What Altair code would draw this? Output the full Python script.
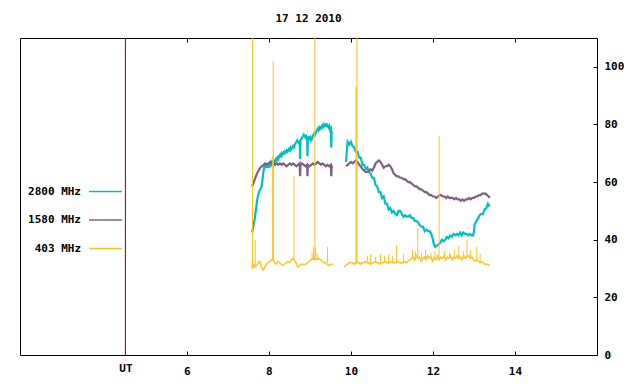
import altair as alt
import pandas as pd

FONT = "DejaVu Sans Mono"
TEAL = "#00bfbf"
PURPLE = "#7f6080"
ORANGE = "#ffc020"
UTRED = "#8b0000"
SERIES = ["2800 MHz", "1580 MHz", "403 MHz"]
TITLE = "17 12 2010"

# ---------------- data ----------------
t2800_a = [7.59, 7.61, 7.63, 7.65, 7.67, 7.69, 7.71, 7.73, 7.75, 7.77, 7.79, 7.81, 7.83, 7.85, 7.87, 7.89,
           7.91, 7.93, 7.95, 7.97, 7.99, 8.01, 8.03, 8.05, 8.07, 8.09, 8.11, 8.13, 8.15, 8.17, 8.19, 8.21,
           8.23, 8.25, 8.27, 8.29, 8.31, 8.33, 8.35, 8.37, 8.39, 8.41, 8.43, 8.45, 8.47, 8.49, 8.51, 8.53,
           8.55, 8.57, 8.59, 8.61, 8.63, 8.65, 8.67, 8.69, 8.71, 8.73, 8.75, 8.76, 8.77, 8.79, 8.81, 8.83,
           8.85, 8.87, 8.89, 8.91, 8.93, 8.94, 8.95, 8.97, 8.99, 9.01, 9.03, 9.05, 9.07, 9.09, 9.11, 9.13,
           9.15, 9.17, 9.19, 9.21, 9.23, 9.25, 9.27, 9.29, 9.31, 9.33, 9.35, 9.37, 9.39, 9.41, 9.43, 9.45,
           9.47, 9.49, 9.51, 9.52, 9.53, 9.55]
v2800_a = [42.5, 44, 45.5, 47, 49, 51, 53.5, 55, 56, 57, 57.5, 58, 59, 62, 64, 65.5, 66, 65, 66.5, 65.5,
           66, 65, 66.5, 67, 66, 66.5, 67, 66.5, 67.5, 68, 67.5, 68.5, 68, 69, 69.5, 69, 70, 69.5, 70, 70.5,
           70, 70.5, 71, 70.5, 71, 71.5, 71, 72, 71.5, 72, 72.5, 72, 73, 73.5, 74, 74.5, 74, 73.5, 74,
           68, 74.5, 75, 75.5, 76, 76.5, 76, 75.5, 76, 75.5, 69,
           75, 75.5, 75, 75.5, 74.5, 75, 76, 76.5, 77, 76.5, 77.5, 78, 78.5, 78, 79, 78.5, 79, 79.5, 79, 80,
           79.5, 80, 79.5, 80, 79.5, 79, 79.5, 78, 78.5, 72, 77.5, 77.5]

t2800_b = [9.88, 9.90, 9.92, 9.96, 10.00, 10.04, 10.08, 10.12, 10.16, 10.20, 10.24, 10.28, 10.32, 10.36,
           10.40, 10.44, 10.48, 10.52, 10.56, 10.60, 10.64, 10.68, 10.72, 10.76, 10.80, 10.84, 10.88, 10.92,
           10.96, 11.00, 11.04, 11.08, 11.12, 11.16, 11.20, 11.24, 11.28, 11.32, 11.36, 11.40, 11.44, 11.48,
           11.52, 11.56, 11.60, 11.64, 11.68, 11.72, 11.76, 11.80, 11.84, 11.88, 11.92, 11.96, 12.00, 12.02,
           12.06, 12.10, 12.14, 12.18, 12.22, 12.26, 12.30, 12.34, 12.38, 12.42, 12.46, 12.50, 12.54, 12.58,
           12.62, 12.66, 12.70, 12.74, 12.78, 12.82, 12.86, 12.90, 12.94, 12.98, 13.00, 13.02, 13.06, 13.10,
           13.14, 13.18, 13.22, 13.26, 13.30, 13.34, 13.38]
v2800_b = [67, 71, 74, 73, 74, 72.5, 72, 70.5, 70.5, 68.5, 68.5, 66, 66, 64.5, 65, 63.5, 63, 61.5, 61.5,
           59, 58.5, 56.5, 56.5, 54.5, 55, 52.5, 52.5, 50.5, 51, 49.5, 50, 49, 48.5, 50, 50, 49, 48, 48.5,
           48, 48, 48.5, 47.5, 47.5, 46.5, 46.5, 46, 45, 44.5, 44.5, 43, 43.5, 43, 43, 42, 40, 38.5, 37.5,
           38, 38.5, 39, 40, 39.5, 40, 41, 40.5, 41.5, 41, 42, 41.5, 42, 41.5, 42.5, 41.5, 42.5, 42, 42,
           41.5, 42, 41.5, 41.5, 43, 45.5, 46.5, 47.5, 48.5, 49, 49, 50.5, 51, 52.5, 51.5]

t1580_a = [7.59, 7.63, 7.67, 7.71, 7.75, 7.79, 7.83, 7.87, 7.91, 7.95, 7.99, 8.03, 8.07, 8.11, 8.15, 8.19,
           8.23, 8.27, 8.31, 8.35, 8.39, 8.43, 8.47, 8.51, 8.55, 8.59, 8.63, 8.67, 8.71, 8.75, 8.76, 8.77,
           8.81, 8.85, 8.89, 8.93, 8.94, 8.95, 8.99, 9.03, 9.07, 9.11, 9.15, 9.19, 9.23, 9.27, 9.31, 9.35,
           9.39, 9.43, 9.47, 9.51, 9.52, 9.53, 9.55]
v1580_a = [58.5, 60, 61.5, 63, 64, 65, 65.5, 66, 66.5, 66, 66.5, 67, 66.5, 67, 66, 66.5, 66, 66.5, 66,
           66.5, 66, 65.5, 66, 66.5, 66, 66.5, 66, 65.5, 66, 66.5, 62, 66, 66.5, 66, 65.5, 66, 62, 66, 65.5,
           66, 66.5, 66, 66.5, 67, 66.5, 66, 66.5, 66, 65.5, 66, 65.5, 66, 62, 65.5, 65]

t1580_b = [9.88, 9.92, 9.96, 10.00, 10.04, 10.08, 10.12, 10.16, 10.20, 10.24, 10.28, 10.32, 10.36, 10.40,
           10.44, 10.48, 10.52, 10.56, 10.60, 10.64, 10.68, 10.72, 10.76, 10.80, 10.84, 10.88, 10.92, 10.96,
           11.00, 11.04, 11.08, 11.12, 11.16, 11.20, 11.24, 11.28, 11.32, 11.36, 11.40, 11.44, 11.48, 11.52,
           11.56, 11.60, 11.64, 11.68, 11.72, 11.76, 11.80, 11.84, 11.88, 11.92, 11.96, 12.00, 12.04, 12.08,
           12.12, 12.16, 12.20, 12.24, 12.28, 12.32, 12.36, 12.40, 12.44, 12.48, 12.52, 12.56, 12.60, 12.64,
           12.68, 12.72, 12.76, 12.80, 12.84, 12.88, 12.92, 12.96, 13.00, 13.04, 13.08, 13.12, 13.16, 13.20,
           13.24, 13.28, 13.32, 13.36, 13.38]
v1580_b = [65.5, 66, 66.5, 67, 66.5, 67, 67.5, 67, 66, 65.5, 64.5, 64, 63.5, 63.5, 64, 64.5, 64, 65, 66.5,
           67, 67.5, 67, 66, 65, 65.5, 65.5, 66, 65.5, 64.5, 63, 62.5, 62, 62, 61.5, 61.5, 61, 61, 60.5, 60,
           60, 59.5, 59, 58.5, 58.5, 58, 57.5, 57.5, 57, 56.5, 56.5, 56, 55.5, 55.5, 55, 55, 54.5, 55, 55.5,
           55.5, 55, 55, 54.5, 55, 54.5, 54.5, 54.5, 54, 54.5, 54, 54, 53.5, 54, 53.5, 54, 54, 54.5, 54, 54.5,
           54.5, 55, 55, 55.5, 55.5, 56, 56, 56, 55.5, 55, 54.5]

t403_a = [7.58, 7.60, 7.62, 7.66, 7.70, 7.74, 7.78, 7.82, 7.86, 7.90, 7.94, 7.98, 8.02, 8.06, 8.10, 8.14,
          8.18, 8.22, 8.26, 8.30, 8.34, 8.38, 8.42, 8.46, 8.50, 8.54, 8.58, 8.62, 8.66, 8.70, 8.74, 8.78,
          8.82, 8.86, 8.90, 8.94, 8.98, 9.02, 9.06, 9.10, 9.14, 9.18, 9.22, 9.26, 9.30, 9.34, 9.38, 9.42,
          9.46, 9.50, 9.55]
v403_a = [31, 30, 31.5, 30.5, 31, 32, 32.5, 30.5, 29.5, 30.5, 31.5, 32, 32.5, 33, 33, 32, 31.5, 32.5, 32,
          31.5, 31, 31.5, 32, 32.5, 32, 33, 33.5, 33, 32, 30.5, 31, 31.5, 31.5, 31.5, 31.5, 32, 32.5, 33,
          33.5, 33, 33.5, 33, 33.5, 33, 32.5, 32, 32, 31.5, 31, 31.5, 31.5]

t403_b = [9.83, 9.87, 9.91, 9.95, 9.99, 10.03, 10.07, 10.11, 10.15, 10.19, 10.23, 10.27, 10.31, 10.35,
          10.39, 10.43, 10.47, 10.51, 10.55, 10.59, 10.63, 10.67, 10.71, 10.75, 10.79, 10.83, 10.87, 10.91,
          10.95, 10.99, 11.03, 11.07, 11.11, 11.15, 11.19, 11.23, 11.27, 11.31, 11.35, 11.39, 11.43, 11.47,
          11.51, 11.55, 11.59, 11.63, 11.67, 11.71, 11.75, 11.79, 11.83, 11.87, 11.91, 11.95, 11.99, 12.03,
          12.07, 12.11, 12.15, 12.19, 12.23, 12.27, 12.31, 12.35, 12.39, 12.43, 12.47, 12.51, 12.55, 12.59,
          12.63, 12.67, 12.71, 12.75, 12.79, 12.83, 12.87, 12.91, 12.95, 12.99, 13.03, 13.07, 13.11, 13.15,
          13.19, 13.23, 13.27, 13.31, 13.35, 13.38]
v403_b = [30.5, 31, 31.5, 32, 32, 32, 31.5, 32, 32, 32, 31.5, 32, 32, 32.5, 32, 32, 31.5, 32, 32, 32.5,
          32, 32, 31.5, 32, 32, 32.5, 32, 32, 32, 32.5, 32, 32, 32, 32.5, 32, 32, 32, 32.5, 32, 32.5,
          33, 33.5, 34, 33, 34.5, 33.5, 34, 32.5, 33.5, 34, 33, 34.5, 33.5, 34, 32.5, 34, 33, 34.5, 33, 34,
          33.5, 34.5, 33, 34, 33.5, 34.5, 33, 34, 33.5, 34.5, 33.5, 34, 33, 34.5, 33.5, 34, 34.5, 33.5, 34, 33,
          32.5, 33, 32.5, 32, 32.5, 32, 31.5, 31.5, 31.5, 31]

# 403 MHz bursts: time, level at foot, level at peak
spike_t = [7.60, 7.665, 8.095, 8.10, 8.105, 8.61, 9.05, 9.09, 9.12, 9.14, 9.18, 9.43, 10.125, 10.13, 10.145,
           10.40, 10.48, 10.60, 10.72, 10.82, 10.92, 11.02, 11.11, 11.28, 11.50, 11.57, 11.63, 11.72, 11.82,
           11.95, 12.05, 12.15, 12.28, 12.40, 12.52, 12.63, 12.74, 12.83, 12.92, 13.07, 13.15]
spike_base = [31, 31, 33, 33, 33, 33, 33, 33, 33, 33, 33, 32, 32, 32, 32, 32, 32, 32, 32, 32, 32, 32, 32, 32,
              34, 33, 33.5, 33, 33, 34, 34, 33, 34, 34, 34, 33.5, 34, 34, 34, 33, 32.5]
spike_top = [120, 40, 69, 69, 102, 62, 35.5, 37.5, 120, 37, 35, 37.5, 93, 93, 120, 34.5, 35, 34, 35, 34.5,
             35, 34.5, 38, 35, 36.5, 36, 44, 35.5, 36.5, 35.5, 36, 76, 36, 35.5, 36.5, 38, 36, 40, 36.5,
             37.5, 35]

ut_x = [4.5]
x_ticks = [6, 8, 10, 12, 14]
y_ticks = [0, 20, 40, 60, 80, 100]
x_domain = [1.93, 16.0]
y_domain = [0, 110]


def frame(parts, name):
    rows = []
    for seg_id, (ts, vs) in enumerate(parts):
        for t, v in zip(ts, vs):
            rows.append({"t": t, "v": v, "series": name, "seg": seg_id})
    return pd.DataFrame(rows)


d2800 = frame([(t2800_a, v2800_a), (t2800_b, v2800_b)], SERIES[0])
d1580 = frame([(t1580_a, v1580_a), (t1580_b, v1580_b)], SERIES[1])
d403 = frame([(t403_a, v403_a), (t403_b, v403_b)], SERIES[2])
dspk = pd.DataFrame([{"t": a, "base": b, "top": c, "series": SERIES[2]}
                     for a, b, c in zip(spike_t, spike_base, spike_top)])
dut = pd.DataFrame({"t": ut_x})

# ---------------- chart ----------------
W, H = 577, 317
xs = alt.Scale(domain=x_domain, nice=False, zero=False)
ys = alt.Scale(domain=y_domain, nice=False, zero=False)
cs = alt.Scale(domain=SERIES, range=[TEAL, PURPLE, ORANGE])

leg = alt.Legend(title=None, orient="none", legendX=68, legendY=136, padding=0,
                 symbolType="stroke", symbolSize=1089, symbolStrokeWidth=1.5,
                 rowPadding=alt.ExprRef(expr="5.5"), labelAlign="right",
                 labelOffset=alt.ExprRef(expr="-42"),
                 labelFont=FONT, labelFontSize=11, labelFontWeight="bold", labelColor="black")


def col():
    return alt.Color("series:N", scale=cs, legend=leg, sort=SERIES)


INWARD = alt.ExprRef(expr="-4")
common = dict(grid=False, title=None, labelFont=FONT, labelFontSize=11,
              labelFontWeight="bold", labelColor="black", tickColor="black", tickWidth=1,
              domainColor="black", domainWidth=1)
ax_x_main = alt.Axis(orient="bottom", values=x_ticks, ticks=True, tickSize=INWARD, labelPadding=14,
                     labelFlush=False, labelOverlap=False, domain=True, **common)
ax_x_top = alt.Axis(orient="top", values=x_ticks, ticks=True, tickSize=INWARD, labels=False,
                    domain=True, **common)
ax_x_ut = alt.Axis(orient="bottom", values=ut_x, labelExpr="'UT'", ticks=False, labelPadding=7,
                   labelFlush=False, domain=False, **common)
ax_y_main = alt.Axis(orient="right", values=y_ticks, ticks=True, tickSize=INWARD, labelPadding=11,
                     labelFlush=False, domain=True, **common)
ax_y_left = alt.Axis(orient="left", values=y_ticks, ticks=False, labels=False, domain=True, **common)

ut_layer = alt.Chart(dut).mark_rule(color=UTRED, strokeWidth=1).encode(
    x=alt.X("t:Q", scale=xs, axis=None)
)

teal_layer = alt.Chart(d2800).mark_line(strokeWidth=2.2).encode(
    x=alt.X("t:Q", scale=xs, axis=ax_x_top),
    y=alt.Y("v:Q", scale=ys, axis=ax_y_left),
    color=col(), detail="seg:N", order="t:Q",
)

purple_layer = alt.Chart(d1580).mark_line(strokeWidth=2.2).encode(
    x=alt.X("t:Q", scale=xs, axis=None),
    y=alt.Y("v:Q", scale=ys, axis=None),
    color=col(), detail="seg:N", order="t:Q",
)

orange_layer = alt.Chart(d403).mark_line(strokeWidth=1.4).encode(
    x=alt.X("t:Q", scale=xs, axis=ax_x_main),
    y=alt.Y("v:Q", scale=ys, axis=ax_y_main),
    color=col(), detail="seg:N", order="t:Q",
)

spike_layer = alt.Chart(dspk).mark_rule(strokeWidth=1, clip=True).encode(
    x=alt.X("t:Q", scale=xs, axis=ax_x_ut),
    y=alt.Y("top:Q", scale=ys, axis=None),
    y2="base:Q",
    color=col(),
)

chart = (
    alt.layer(ut_layer, teal_layer, purple_layer, orange_layer, spike_layer)
    .resolve_axis(x="independent", y="independent")
    .properties(
        width=W, height=H,
        padding={"left": 12, "top": 4, "right": 0, "bottom": 0},
        title=alt.TitleParams(text=TITLE, font=FONT, fontSize=11, fontWeight="bold",
                              color="black", anchor="middle", offset=14),
    )
    .configure_view(stroke="transparent")
    .configure(background="white")
)

chart.save("out.html", embed_options={"renderer": "svg", "actions": False})
